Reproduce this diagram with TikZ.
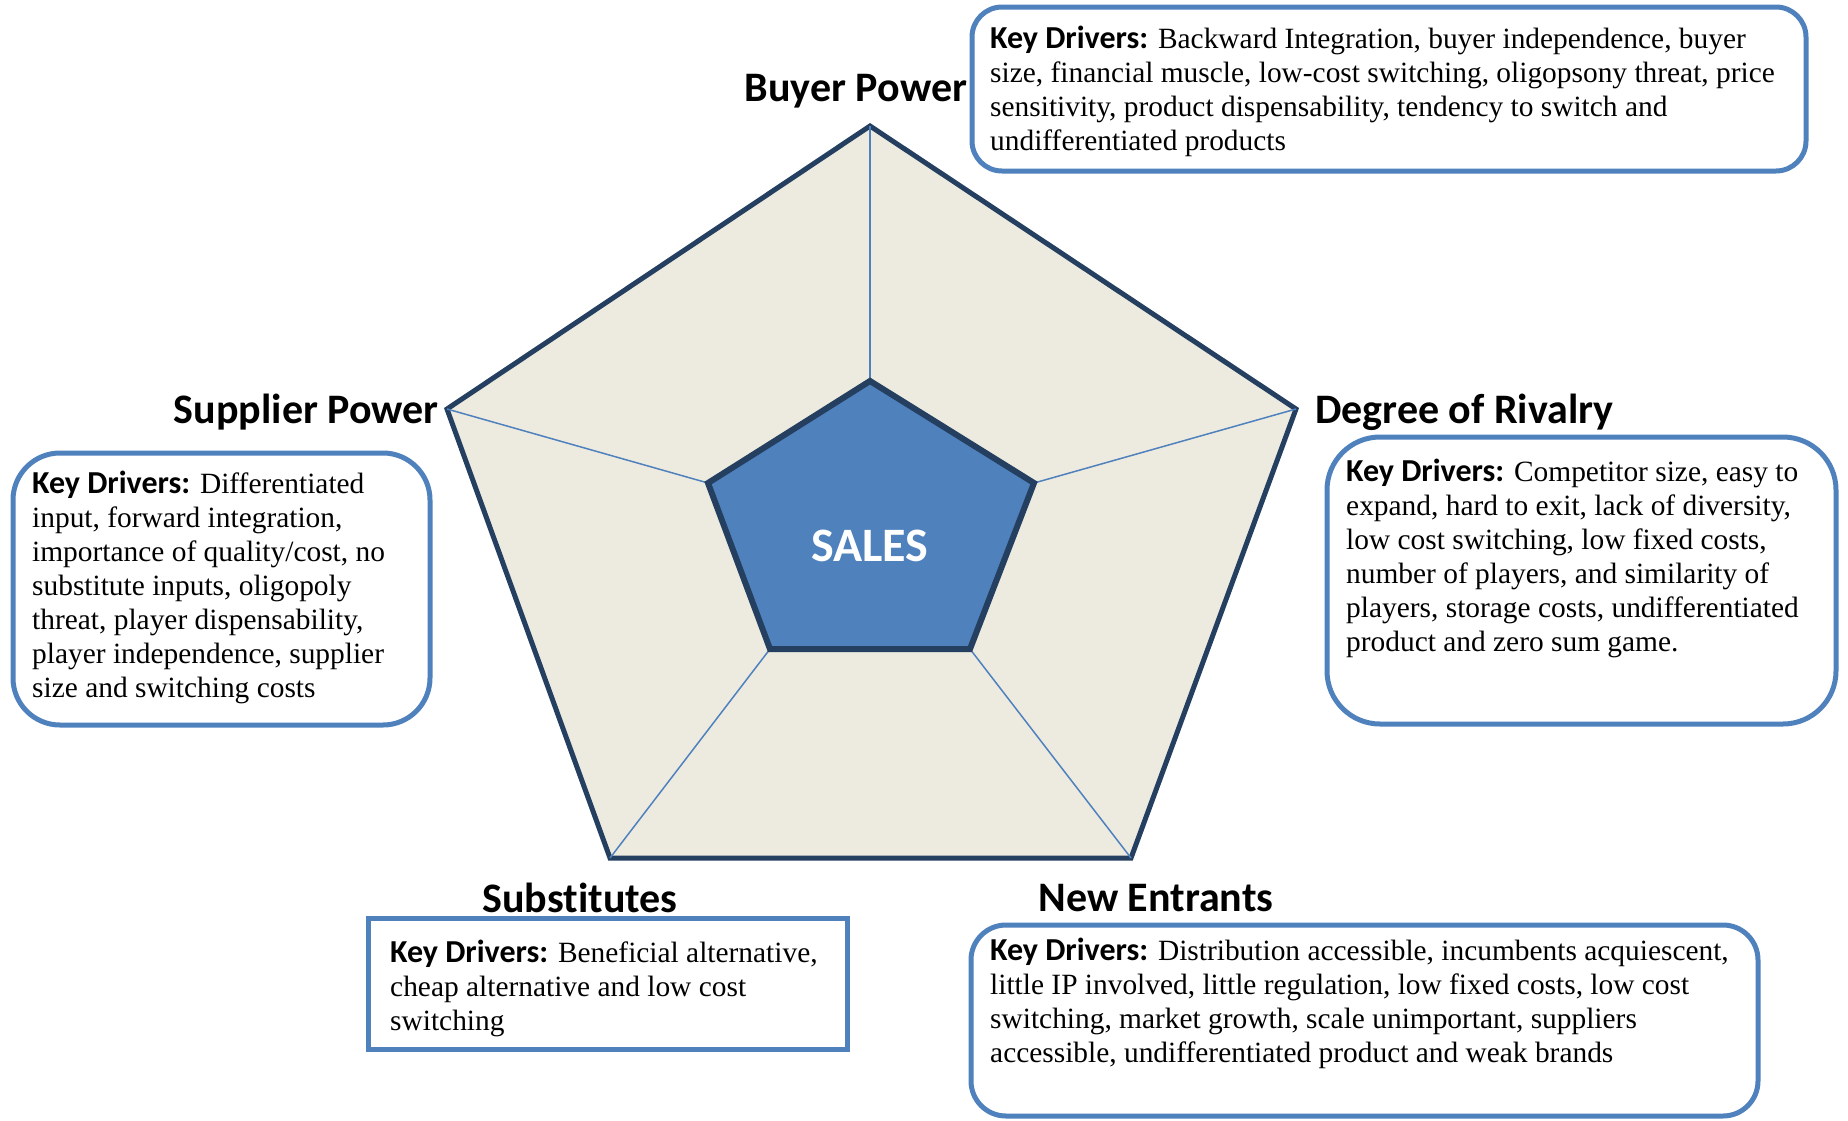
\documentclass[tikz,border=0pt]{standalone}
\usepackage{fontspec}
\setmainfont{Liberation Serif}
\newfontfamily\hfont[Ligatures={NoCommon}]{Carlito}
\definecolor{navy}{HTML}{243F60}
\definecolor{accent}{HTML}{4F81BD}
\definecolor{beige}{HTML}{EDEBE0}
\newcommand{\kd}{{\hfont\bfseries\fontsize{32}{34}\selectfont Key Drivers:}}
\begin{document}
\begin{tikzpicture}[x=1pt,y=-1pt,
  heading/.style={font=\hfont\bfseries\fontsize{42}{48}\selectfont, inner sep=0pt},
  drivertext/.style={font=\fontsize{29.4}{34}\selectfont, align=left, inner sep=0pt, anchor=north west},
  roundbox/.style={draw=accent, line width=5pt, fill=white},
  spoke/.style={draw=accent, line width=1.5pt}]
\useasboundingbox (0,0) rectangle (1848,1120);
% outer pentagon
\coordinate (o1) at (870,126);
\coordinate (o2) at (1296,409);
\coordinate (o3) at (1131,858);
\coordinate (o4) at (610,858);
\coordinate (o5) at (447,409);
% inner pentagon
\coordinate (i1) at (870,381);
\coordinate (i2) at (1034,483);
\coordinate (i3) at (970,649);
\coordinate (i4) at (770,649);
\coordinate (i5) at (708,483);
\filldraw[fill=beige, draw=navy, line width=5pt, line join=miter] (o1) -- (o2) -- (o3) -- (o4) -- (o5) -- cycle;
\draw[spoke] (o1) -- (i1);
\draw[spoke] (o2) -- (i2);
\draw[spoke] (o3) -- (i3);
\draw[spoke] (o4) -- (i4);
\draw[spoke] (o5) -- (i5);
\filldraw[fill=accent, draw=navy, line width=6pt, line join=miter] (i1) -- (i2) -- (i3) -- (i4) -- (i5) -- cycle;
\node[heading, text=white, font=\hfont\bfseries\fontsize{48}{54}\selectfont] (sales) at (870,546) {SALES};
% headings
\node[heading] (hbuyer) at (856,91) {Buyer Power};
\node[heading, anchor=east] (hsupp) at (439,412) {Supplier Power};
\node[heading, anchor=west] (hriv) at (1315,412) {Degree of Rivalry};
\node[heading] (hsub) at (580,898) {Substitutes};
\node[heading] (hnew) at (1156,898) {New Entrants};
% boxes
\draw[roundbox, rounded corners=30pt] (972,7) rectangle (1806,171);
\node[drivertext] (tbuyer) at (990,26) {\kd{} Backward Integration, buyer independence, buyer\\ size, financial muscle, low-cost switching, oligopsony threat, price\\ sensitivity, product dispensability, tendency to switch and\\ undifferentiated products};
\draw[roundbox, rounded corners=47pt] (13,453) rectangle (430,725);
\node[drivertext] (tsupp) at (32,471) {\kd{} Differentiated\\ input, forward integration,\\ importance of quality/cost, no\\ substitute inputs, oligopoly\\ threat, player dispensability,\\ player independence, supplier\\ size and switching costs};
\draw[roundbox, rounded corners=53pt] (1327,437) rectangle (1836,724);
\node[drivertext] (triv) at (1346,459) {\kd{} Competitor size, easy to\\ expand, hard to exit, lack of diversity,\\ low cost switching, low fixed costs,\\ number of players, and similarity of\\ players, storage costs, undifferentiated\\ product and zero sum game.};
\draw[roundbox] (368,918) rectangle (847,1049);
\node[drivertext] (tsub) at (390,940) {\kd{} Beneficial alternative,\\ cheap alternative and low cost\\ switching};
\draw[roundbox, rounded corners=35pt] (971,925) rectangle (1758,1116);
\node[drivertext] (tnew) at (990,938) {\kd{} Distribution accessible, incumbents acquiescent,\\ little IP involved, little regulation, low fixed costs, low cost\\ switching, market growth, scale unimportant, suppliers\\ accessible, undifferentiated product and weak brands};
\end{tikzpicture}
\end{document}
